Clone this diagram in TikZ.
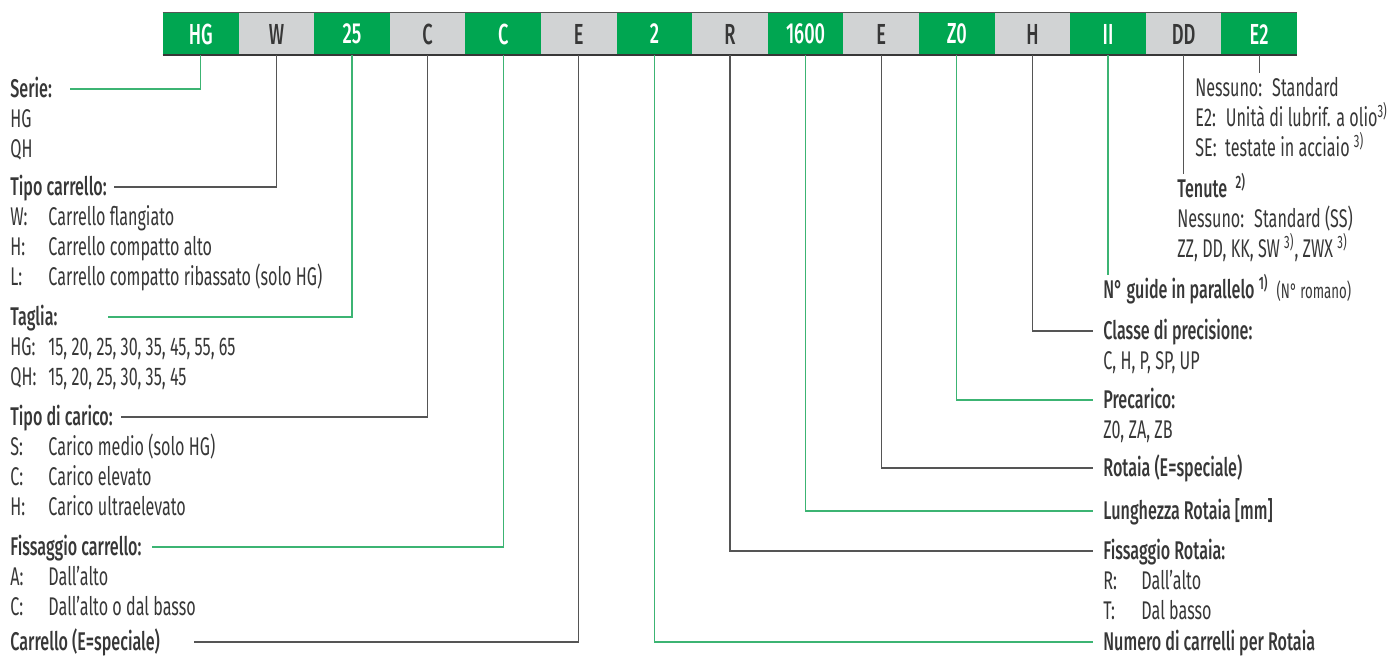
\documentclass[tikz,border=0pt]{standalone}
\usepackage{fontspec}
\setmainfont[FakeStretch=0.63,BoldFont={Fira Sans Medium}]{Fira Sans}
\usetikzlibrary{positioning}
\definecolor{hgreen}{RGB}{0,166,81}
\definecolor{hgray}{RGB}{209,211,212}
\definecolor{lgreen}{RGB}{60,180,115}
\definecolor{ldark}{RGB}{85,85,85}
\definecolor{txt}{RGB}{55,55,55}
\newcommand{\keyc}[1]{\makebox[19pt][l]{#1}}
\newcommand{\sups}[1]{\,\textsuperscript{#1}}

\begin{document}
\begin{tikzpicture}[x=0.5pt, y=-0.5pt,
    cell/.style = {minimum width=37.8pt, minimum height=21pt, inner sep=0pt, font=\fontsize{14.5}{15}\selectfont\bfseries},
    gcell/.style = {cell, fill=hgreen, text=white},
    wcell/.style = {cell, fill=hgray, text=txt},
    lab/.style = {inner sep=0pt, text height=11.5pt, text depth=3.15pt, text=txt, font=\fontsize{12.8}{14}\selectfont, anchor=west},
    head/.style = {lab, font=\fontsize{12.8}{14}\selectfont\bfseries},
    under/.style = {lab, below=0pt of #1.south west, anchor=north west},
    gline/.style = {draw=lgreen, line width=0.65pt},
    dline/.style = {draw=ldark, line width=0.65pt}]
    \useasboundingbox (0,0) rectangle (1388,655);

    % code bar
    \foreach \t/\s [count=\i] in {HG/gcell, W/wcell, 25/gcell, C/wcell, C/gcell, E/wcell, 2/gcell, R/wcell, 1600/gcell, E/wcell, Z0/gcell, H/wcell, II/gcell, DD/wcell, E2/gcell}
        \node[\s] (c\i) at ({163+75.6*(\i-0.5)}, 34) {\t};
    \draw[ldark, line width=0.5pt] (c1.north west) -- (c15.north east);
    \draw[txt, line width=1pt] (c1.south west) -- (c15.south east);

    % left column
    \node[head] (serie) at (10,89) {Serie:};
    \node[under=serie] (serie1) {HG};
    \node[under=serie1] (serie2) {QH};
    \node[head] (tipo) at (10,187) {Tipo carrello:};
    \node[under=tipo] (tipo1) {\keyc{W:}Carrello flangiato};
    \node[under=tipo1] (tipo2) {\keyc{H:}Carrello compatto alto};
    \node[under=tipo2] (tipo3) {\keyc{L:}Carrello compatto ribassato (solo HG)};
    \node[head] (taglia) at (10,317) {Taglia:};
    \node[under=taglia] (taglia1) {\keyc{HG:}15, 20, 25, 30, 35, 45, 55, 65};
    \node[under=taglia1] (taglia2) {\keyc{QH:}15, 20, 25, 30, 35, 45};
    \node[head] (carico) at (10,417) {Tipo di carico:};
    \node[under=carico] (carico1) {\keyc{S:}Carico medio (solo HG)};
    \node[under=carico1] (carico2) {\keyc{C:}Carico elevato};
    \node[under=carico2] (carico3) {\keyc{H:}Carico ultraelevato};
    \node[head] (fissc) at (10,547) {Fissaggio carrello:};
    \node[under=fissc] (fissc1) {\keyc{A:}Dall’alto};
    \node[under=fissc1] (fissc2) {\keyc{C:}Dall’alto o dal basso};
    \node[head] (carre) at (10,642) {Carrello (E=speciale)};

    % right column
    \node[lab] (e2a) at (1195,88) {Nessuno:~ Standard};
    \node[under=e2a] (e2b) {E2:~ Unità di lubrif. a olio\textsuperscript{3)}};
    \node[under=e2b] (e2c) {SE:~ testate in acciaio \textsuperscript{3)}};
    \node[head] (tenute) at (1177,189) {Tenute \sups{2)}};
    \node[under=tenute] (tenute1) {Nessuno:~ Standard (SS)};
    \node[under=tenute1] (tenute2) {ZZ, DD, KK, SW\sups{3)}, ZWX\sups{3)}};
    \node[head] (guide) at (1103,290) {N° guide in parallelo\sups{1)}\ \ {\mdseries\fontsize{10.5}{11}\selectfont(N° romano)}};
    \node[head] (classe) at (1103,331) {Classe di precisione:};
    \node[under=classe] (classe1) {C, H, P, SP, UP};
    \node[head] (prec) at (1103,400) {Precarico:};
    \node[under=prec] (prec1) {Z0, ZA, ZB};
    \node[head] (rotaiae) at (1103,468) {Rotaia (E=speciale)};
    \node[head] (lung) at (1103,511) {Lunghezza Rotaia [mm]};
    \node[head] (fissr) at (1103,551) {Fissaggio Rotaia:};
    \node[under=fissr] (fissr1) {\keyc{R:}Dall’alto};
    \node[under=fissr1] (fissr2) {\keyc{T:}Dal basso};
    \node[head] (numero) at (1103,642) {Numero di carrelli per Rotaia};

    % connectors
    \draw[gline, shorten >=9pt] (c1.south) |- (serie.east);
    \draw[dline, shorten >=3.5pt] (c2.south) |- (tipo.east);
    \draw[gline, shorten >=25pt] (c3.south) |- (taglia.east);
    \draw[dline, shorten >=4pt] (c4.south) |- (carico.east);
    \draw[gline, shorten >=5pt] (c5.south) |- (fissc.east);
    \draw[dline, shorten >=17pt] (c6.south) |- (carre.east);
    \draw[gline, shorten >=5pt] (c7.south) |- (numero.west);
    \draw[dline, shorten >=5pt] (c8.south) |- (fissr.west);
    \draw[gline, shorten >=5pt] (c9.south) |- (lung.west);
    \draw[dline, shorten >=5pt] (c10.south) |- (rotaiae.west);
    \draw[gline, shorten >=5pt] (c11.south) |- (prec.west);
    \draw[dline, shorten >=5pt] (c12.south) |- (classe.west);
    \draw[gline] (c13.south) -- (c13.south |- guide.north);
    \draw[dline] (c14.south) -- (c14.south |- tenute.north);
    \draw[dline] (c15.south) -- (c15.south |- e2a.north);
\end{tikzpicture}
\end{document}
